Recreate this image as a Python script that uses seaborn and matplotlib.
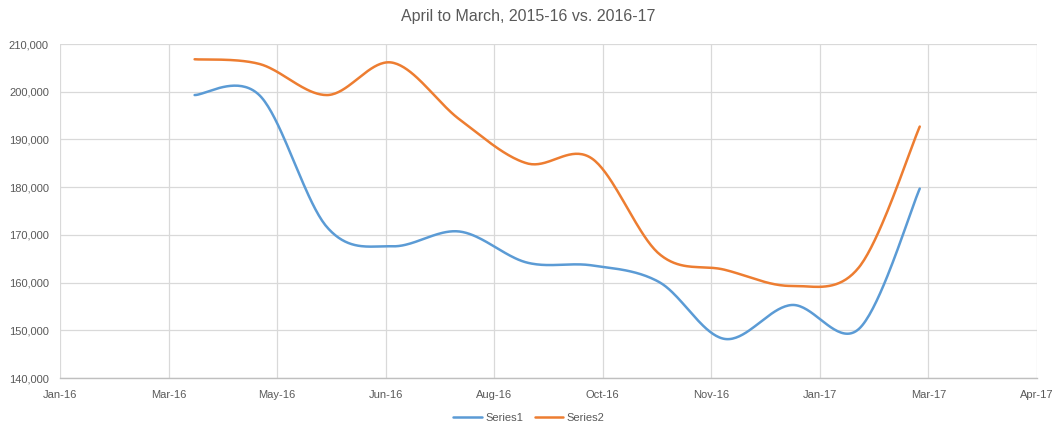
import numpy as np
import pandas as pd
import matplotlib
matplotlib.use("Agg")
import matplotlib.pyplot as plt
import matplotlib.dates as mdates
import seaborn as sns

# ---- data ----
months = ["2016-04-01", "2016-05-01", "2016-06-01", "2016-07-01", "2016-08-01", "2016-09-01",
          "2016-10-01", "2016-11-01", "2016-12-01", "2017-01-01", "2017-02-01", "2017-03-01"]
series1 = [199300, 199200, 171600, 167600, 170700, 164200, 163600, 160100, 148200, 155300, 150300, 179700]
series2 = [206800, 205800, 199300, 206100, 194200, 185000, 186000, 166000, 162700, 159300, 163200, 192700]
series_names = ["Series1", "Series2"]
colors = ["#5B9BD5", "#ED7D31"]
title = "April to March, 2015-16 vs. 2016-17"
x_start = "2016-01-30"
x_step_days = 50
n_ticks = 10


def smooth(xs, ys, n=40):
    """Catmull-Rom style Bezier smoothing (as in Excel smoothed lines)."""
    P = np.column_stack([xs, ys]).astype(float)
    m = len(P)
    out = []
    for i in range(m - 1):
        p0 = P[i - 1] if i > 0 else P[i]
        p1, p2 = P[i], P[i + 1]
        p3 = P[i + 2] if i + 2 < m else P[i + 1]
        c1 = p1 + (p2 - p0) / 6.0
        c2 = p2 - (p3 - p1) / 6.0
        t = np.linspace(0, 1, n, endpoint=(i == m - 2))[:, None]
        seg = ((1 - t) ** 3) * p1 + 3 * ((1 - t) ** 2) * t * c1 + 3 * (1 - t) * t ** 2 * c2 + t ** 3 * p2
        out.append(seg)
    out = np.vstack(out)
    return out[:, 0], out[:, 1]


sns.set_theme(style="white")
plt.rcParams["font.family"] = ["Liberation Sans", "DejaVu Sans"]

fig = plt.figure(figsize=(10.57, 4.28), dpi=100)
ax = fig.add_axes([60 / 1057, 1 - 378 / 428, (1037 - 60) / 1057, (378 - 44) / 428])

xnum = mdates.date2num(pd.to_datetime(months))
frames = []
for name, vals in zip(series_names, [series1, series2]):
    sx, sy = smooth(xnum, vals)
    frames.append(pd.DataFrame({"x": sx, "y": sy, "series": name}))
df = pd.concat(frames, ignore_index=True)

sns.lineplot(data=df, x="x", y="y", hue="series", palette=colors, sort=False,
             linewidth=1.8, ax=ax, legend=True, estimator=None)

x0 = mdates.date2num(pd.Timestamp(x_start))
ticks = [x0 + k * x_step_days for k in range(n_ticks)]
ax.set_xlim(ticks[0], ticks[-1])
ax.set_xticks(ticks)
ax.xaxis.set_major_formatter(mdates.DateFormatter("%b-%y"))
ax.set_ylim(140000, 210000)
ax.set_yticks(np.arange(140000, 210001, 10000))
ax.yaxis.set_major_formatter(matplotlib.ticker.FuncFormatter(lambda v, p: f"{int(v):,}"))

ax.grid(True, color="#d9d9d9", linewidth=0.9)
ax.set_axisbelow(True)
for s in ["top", "right", "left"]:
    ax.spines[s].set_visible(False)
ax.spines["bottom"].set_color("#bfbfbf")
ax.spines["bottom"].set_linewidth(1.0)
ax.tick_params(axis="both", length=0, colors="#595959", labelsize=8)
ax.tick_params(axis="x", pad=9)
ax.tick_params(axis="y", pad=8)
ax.set_xlabel("")
ax.set_ylabel("")

fig.text(0.5, 1 - 17 / 428, title, ha="center", va="center", fontsize=11.5, color="#595959")

handles, labels = ax.get_legend_handles_labels()
ax.legend(handles, labels, loc="center", bbox_to_anchor=(0.48, -(418 - 378) / 334),
          ncol=2, frameon=False, fontsize=8, handlelength=2.6, columnspacing=1.0,
          handletextpad=0.3, labelcolor="#595959")

fig.savefig("out.png", dpi=100)
